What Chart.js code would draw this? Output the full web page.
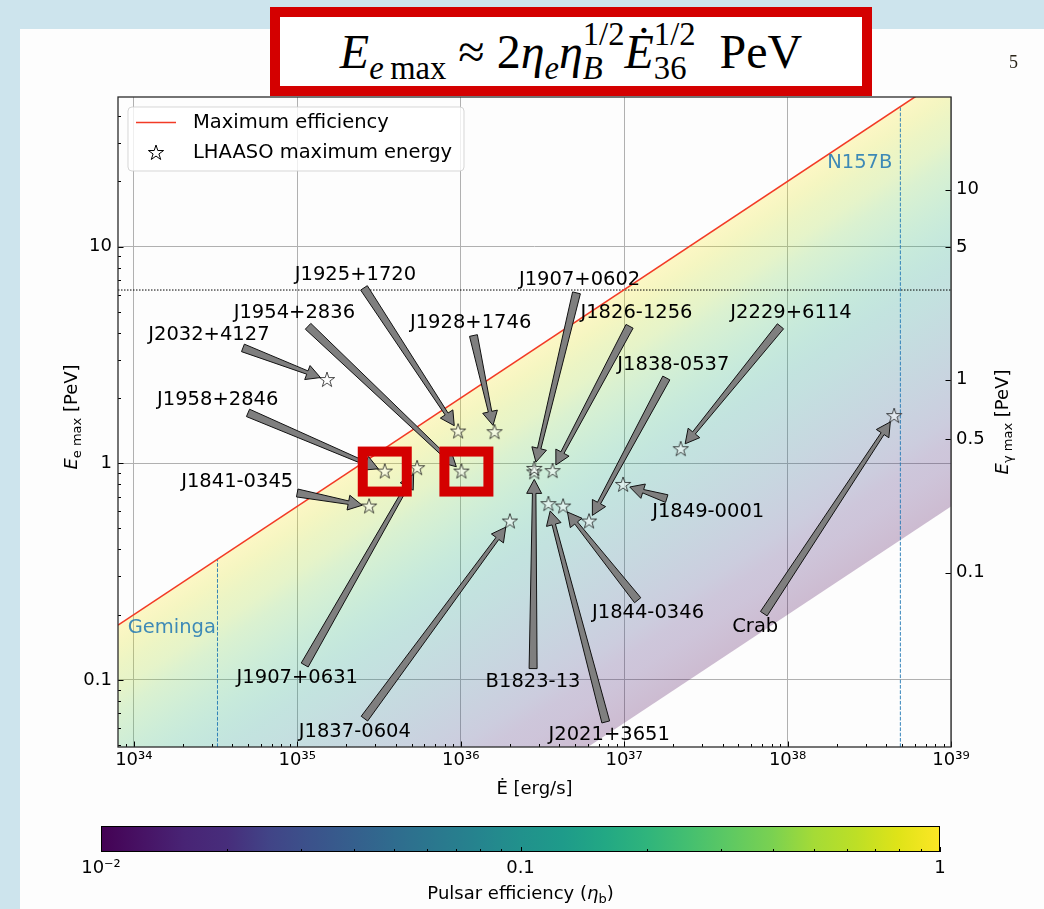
<!DOCTYPE html>
<html>
<head>
<meta charset="utf-8">
<title>Maximum electron energy of LHAASO pulsars</title>
<script src="https://cdn.jsdelivr.net/npm/chart.js@4.4.1/dist/chart.umd.min.js"></script>
<style>
  html, body { margin: 0; padding: 0; }
  body { width: 1044px; height: 909px; position: relative; overflow: hidden; background: #cde4ed; }
  #paper { position: absolute; left: 20px; top: 29px; width: 1024px; height: 880px; background: #fdfdfd; }
  canvas { position: absolute; left: 0; }
  #main { top: 0; }
  #cbar { top: 800px; }
  #formula {
    position: absolute; left: 270px; top: 7px; width: 602px; height: 89px; box-sizing: border-box;
    border: 10px solid #d40000; background: #fff; color: #000;
    font-family: "Liberation Serif", serif; font-size: 48px; line-height: 1;
    display: flex; align-items: center; justify-content: center; padding-top: 0; white-space: nowrap;
  }
  .sb { font-size: 0.68em; position: relative; top: 0.36em; }
  .ss { display: inline-block; position: relative; font-size: 0.68em; }
  .ss .up { position: relative; top: -0.7em; }
  .ss .dn { position: absolute; left: 0; top: 0.36em; }
  #pageno { position: absolute; left: 1009px; top: 52px; font-family: "Liberation Serif", serif; font-size: 18px; color: #2a2418; }
</style>
</head>
<body>
<div id="paper"></div>
<canvas id="main" width="1044" height="800"></canvas>
<canvas id="cbar" width="1044" height="109"></canvas>
<div id="formula"><span><i>E</i><span class="sb"><i>e</i>&#8201;max</span> &#8776; 2<i>&#951;</i><span class="sb"><i>e</i></span><i>&#951;</i><span class="ss"><span class="up">1/2</span><span class="dn"><i>B</i></span></span><i>&#278;</i><span class="ss"><span class="up">1/2</span><span class="dn">36</span></span>&#8194;PeV</span></div>
<div id="pageno">5</div>
<script>
// ---------------- values ----------------
const pulsarNames = ['J2032+4127', 'J1925+1720', 'J1954+2836', 'J1928+1746', 'J1958+2846',
  'J1841-0345', 'J1907+0631', 'J1837-0604', 'B1823-13', 'J2021+3651', 'J1844-0346', 'Crab',
  'J1849-0001', 'J1838-0537', 'J2229+6114', 'J1826-1256', 'J1907+0602'];
// spin-down power Edot [erg/s]
const spinDownPower = [1.52e35, 9.64e35, 1.01e36, 1.61e36, 3.43e35,
  2.75e35, 5.41e35, 2.0e36, 2.82e36, 3.44e36, 4.23e36, 4.49e38,
  9.85e36, 6.1e36, 2.22e37, 3.65e36, 2.82e36];
// maximum electron energy [PeV]
const maxEnergy = [2.42, 1.40, 0.915, 1.39, 0.915,
  0.631, 0.948, 0.538, 0.907, 0.647, 0.631, 1.65,
  0.794, 0.538, 1.16, 0.919, 0.941];
// where each name label sits, in (Edot, E) units
const labelPower = [2.88e34, 2.27e35, 9.6e34, 1.15e36, 3.26e34,
  4.29e34, 1.0e35, 2.25e35, 2.77e36, 8.1e36, 1.4e37, 6.34e37,
  3.27e37, 2.0e37, 1.05e38, 1.19e37, 5.34e36];
const labelEnergy = [3.91, 7.40, 4.92, 4.46, 1.96,
  0.822, 0.102, 0.0577, 0.0982, 0.0557, 0.203, 0.176,
  0.598, 2.84, 4.92, 4.92, 7.02];
const highlighted = ['J1958+2846', 'J1954+2836'];

// maximum-efficiency line (eta = 1) and the eta = 0.01 edge of the band
const maxEffPower = [8e33, 1e39];
const maxEffEnergy = [0.179, 63.2];
const minEffEnergy = [0.00179, 0.632];
const energyCap = 6.3;

// reference pulsars marked by vertical lines
const refNames = ['Geminga', 'N157B'];
const refPower = [3.25e34, 4.9e38];
const refTop = [0.361, 44.3];
const refLabelPower = [3.18e34, 4.38e38];
const refLabelEnergy = [0.174, 24.3];

// axes
const powerTicks = [1e34, 1e35, 1e36, 1e37, 1e38, 1e39];
const energyTicks = [0.1, 1, 10];
const energyTickLabels = ['0.1', '1', '10'];
const gammaTickLabels = ['0.1', '0.5', '1', '5', '10'];
const gammaTickAtEe = [0.313, 1.29, 2.43, 9.94, 18.3];
const etaTicks = [0.01, 0.1, 1];
const etaTickLabels = ['10\u207B\u00B2', '0.1', '1'];

// ---------------- styling helpers ----------------
const VIRIDIS = ['#440154', '#471365', '#482475', '#472d7b', '#414487', '#3b528b', '#355f8d',
  '#2f6c8e', '#2a788e', '#25848e', '#21918c', '#1e9b8a', '#22a884', '#2fb47c', '#44bf70',
  '#5ec962', '#7ad151', '#a5db36', '#bddf26', '#dfe318', '#fde725'];
function rgba(hex, a) {
  const n = parseInt(hex.slice(1), 16);
  return 'rgba(' + (n >> 16) + ',' + ((n >> 8) & 255) + ',' + (n & 255) + ',' + a + ')';
}
const SUP = { '0': '\u2070', '1': '\u00B9', '2': '\u00B2', '3': '\u00B3', '4': '\u2074', '5': '\u2075',
  '6': '\u2076', '7': '\u2077', '8': '\u2078', '9': '\u2079', '-': '\u207B' };
const pow10Label = v => '10' + String(Math.round(Math.log10(v))).split('').map(c => SUP[c]).join('');

const FONT = '"DejaVu Sans"';
Chart.defaults.font.family = FONT;
Chart.defaults.color = '#000';

function starCanvas(R, fill, stroke) {
  const s = Math.ceil(2 * R + 4);
  const c = document.createElement('canvas');
  c.width = s; c.height = s;
  const g = c.getContext('2d');
  traceStar(g, s / 2, s / 2, R);
  g.fillStyle = fill; g.fill();
  g.strokeStyle = stroke; g.lineWidth = 1; g.stroke();
  return c;
}
function traceStar(g, cx, cy, R) {
  g.beginPath();
  for (let i = 0; i < 10; i++) {
    const ang = -Math.PI / 2 + i * Math.PI / 5;
    const r = i % 2 === 0 ? R : R * 0.382;
    const px = cx + r * Math.cos(ang), py = cy + r * Math.sin(ang);
    if (i === 0) g.moveTo(px, py); else g.lineTo(px, py);
  }
  g.closePath();
}
const starImg = starCanvas(8, 'rgba(255,255,255,0.45)', 'rgba(0,0,0,0.7)');
const legendStar = starCanvas(8, '#ffffff', '#000000');

function bandGradient(context) {
  const chart = context.chart;
  const { ctx, chartArea, scales } = chart;
  if (!chartArea || !scales.x || !scales.y) return 'rgba(0,0,0,0)';
  const xs = scales.x, ys = scales.y;
  const r0x = xs.getPixelForValue(maxEffPower[0]), r0y = ys.getPixelForValue(maxEffEnergy[0]);
  const r1x = xs.getPixelForValue(maxEffPower[1]), r1y = ys.getPixelForValue(maxEffEnergy[1]);
  const l0y = ys.getPixelForValue(minEffEnergy[0]);
  let dx = r1x - r0x, dy = r1y - r0y;
  const L = Math.hypot(dx, dy); dx /= L; dy /= L;
  const nx = -dy, ny = dx;
  const t = (l0y - r0y) * ny;
  const g = ctx.createLinearGradient(r0x, r0y, r0x + nx * t, r0y + ny * t);
  const n = VIRIDIS.length - 1;
  for (let i = 0; i <= n; i++) g.addColorStop(i / n, rgba(VIRIDIS[n - i], 0.26));
  return g;
}

function drawArrow(ctx, tx, ty, hx, hy) {
  let ux = hx - tx, uy = hy - ty;
  const L = Math.hypot(ux, uy); ux /= L; uy /= L;
  const nx = -uy, ny = ux;
  const hl = 14, hw = 15, w0 = 8, w1 = 3.5;
  const bx = hx - ux * hl, by = hy - uy * hl;
  ctx.beginPath();
  ctx.moveTo(tx + nx * w0 / 2, ty + ny * w0 / 2);
  ctx.lineTo(bx + nx * w1 / 2, by + ny * w1 / 2);
  ctx.lineTo(bx + nx * hw / 2, by + ny * hw / 2);
  ctx.lineTo(hx, hy);
  ctx.lineTo(bx - nx * hw / 2, by - ny * hw / 2);
  ctx.lineTo(bx - nx * w1 / 2, by - ny * w1 / 2);
  ctx.lineTo(tx - nx * w0 / 2, ty - ny * w0 / 2);
  ctx.closePath();
  ctx.fillStyle = '#7f7f7f'; ctx.fill();
  ctx.strokeStyle = '#111'; ctx.lineWidth = 1; ctx.stroke();
}

function drawRich(ctx, parts, cx, baseline) {
  let total = 0;
  parts.forEach(p => { ctx.font = p.font; p.w = ctx.measureText(p.text).width; total += p.w; });
  let x = cx - total / 2;
  ctx.textAlign = 'left'; ctx.textBaseline = 'alphabetic';
  parts.forEach(p => { ctx.font = p.font; ctx.fillText(p.text, x, baseline + (p.dy || 0)); x += p.w; });
}

// ---------------- main panel decorations ----------------
const highlightNudge = [0, 5];   // hand placement of the frames, px

const annotations = {
  id: 'annotations',
  afterDatasetsDraw(chart) {
    const { ctx, scales: { x: xs, y: ys } } = chart;
    ctx.save();
    // reference pulsar names
    ctx.font = '19.5px ' + FONT;
    ctx.fillStyle = 'rgba(31,119,180,0.85)';
    ctx.textAlign = 'right'; ctx.textBaseline = 'middle';
    refNames.forEach((n, i) => ctx.fillText(n, xs.getPixelForValue(refLabelPower[i]), ys.getPixelForValue(refLabelEnergy[i])));
    // arrows from each name to its pulsar
    pulsarNames.forEach((name, i) => {
      const sx = xs.getPixelForValue(spinDownPower[i]), sy = ys.getPixelForValue(maxEnergy[i]);
      const cx = xs.getPixelForValue(labelPower[i]), cy = ys.getPixelForValue(labelEnergy[i]);
      ctx.font = '19.5px ' + FONT;
      const w = ctx.measureText(name).width;
      let vx = sx - cx, vy = sy - cy;
      const L = Math.hypot(vx, vy); vx /= L; vy /= L;
      const t = Math.min((w / 2 + 4) / Math.max(Math.abs(vx), 1e-6), 13 / Math.max(Math.abs(vy), 1e-6));
      drawArrow(ctx, cx + vx * t, cy + vy * t, sx - vx * 7, sy - vy * 7);
      ctx.fillStyle = '#000'; ctx.textAlign = 'center'; ctx.textBaseline = 'middle';
      ctx.fillText(name, cx, cy);
    });
    ctx.restore();
  },
  afterDraw(chart) {
    const { ctx, chartArea: a, scales: { x: xs, y: ys, y2 } } = chart;
    ctx.save();
    // tick marks (pointing inward)
    ctx.strokeStyle = '#000'; ctx.lineWidth = 1;
    ctx.beginPath();
    const major = 5.5, minor = 3;
    const vline = (v, len) => { const p = Math.round(xs.getPixelForValue(v)) + 0.5; ctx.moveTo(p, a.bottom); ctx.lineTo(p, a.bottom - len); };
    const hline = (scale, v, len, fromRight) => {
      const p = Math.round(scale.getPixelForValue(v)) + 0.5;
      if (fromRight) { ctx.moveTo(a.right, p); ctx.lineTo(a.right - len, p); }
      else { ctx.moveTo(a.left, p); ctx.lineTo(a.left + len, p); }
    };
    powerTicks.forEach(v => vline(v, major));
    for (let d = 33; d <= 38; d++) for (let k = 2; k <= 9; k++) {
      const v = k * Math.pow(10, d);
      if (v > xs.min && v < xs.max) vline(v, minor);
    }
    energyTicks.forEach(v => hline(ys, v, major, false));
    for (let d = -2; d <= 1; d++) for (let k = 2; k <= 9; k++) {
      const v = k * Math.pow(10, d);
      if (v > ys.min && v < ys.max) hline(ys, v, minor, false);
    }
    gammaTickAtEe.forEach(v => hline(y2, v, major, true));
    ctx.stroke();
    // frame
    ctx.strokeStyle = '#2b2b2b'; ctx.lineWidth = 1.3;
    ctx.strokeRect(a.left, a.top, a.right - a.left, a.bottom - a.top);

    // legend
    const lx = a.left + 10, ly = a.top + 10, lw = 336, lh = 64;
    ctx.beginPath();
    ctx.roundRect(lx, ly, lw, lh, 4);
    ctx.fillStyle = 'rgba(255,255,255,0.8)'; ctx.fill();
    ctx.strokeStyle = 'rgba(204,204,204,0.8)'; ctx.lineWidth = 1; ctx.stroke();
    const ds = chart.data.datasets;
    ctx.strokeStyle = ds[1].borderColor; ctx.lineWidth = 1.6;
    ctx.beginPath(); ctx.moveTo(lx + 8, ly + 15.5); ctx.lineTo(lx + 48, ly + 15.5); ctx.stroke();
    ctx.drawImage(legendStar, lx + 28 - legendStar.width / 2, ly + 46 - legendStar.height / 2);
    ctx.fillStyle = '#000'; ctx.font = '19.5px ' + FONT; ctx.textAlign = 'left'; ctx.textBaseline = 'middle';
    ctx.fillText(ds[1].label, lx + 65, ly + 16);
    ctx.fillText(ds[0].label, lx + 65, ly + 46);

    // axis titles
    ctx.fillStyle = '#000';
    drawRich(ctx, [{ text: '\u0116 [erg/s]', font: '18px ' + FONT }], (a.left + a.right) / 2, 794);
    ctx.save();
    ctx.translate(76.5, 417); ctx.rotate(-Math.PI / 2);
    drawRich(ctx, [
      { text: 'E', font: 'oblique 18px ' + FONT },
      { text: 'e max', font: '13px ' + FONT, dy: 4 },
      { text: ' [PeV]', font: '18px ' + FONT }], 0, 0);
    ctx.restore();
    ctx.save();
    ctx.translate(1008, 422); ctx.rotate(-Math.PI / 2);
    drawRich(ctx, [
      { text: 'E', font: 'oblique 18px ' + FONT },
      { text: '\u03B3 max', font: '13px ' + FONT, dy: 4 },
      { text: ' [PeV]', font: '18px ' + FONT }], 0, 0);
    ctx.restore();

    // highlighted pulsars
    ctx.strokeStyle = '#d40000'; ctx.lineWidth = 10;
    highlighted.forEach((n, k) => {
      const i = pulsarNames.indexOf(n);
      const px = xs.getPixelForValue(spinDownPower[i]) + highlightNudge[k];
      const py = ys.getPixelForValue(maxEnergy[i]);
      ctx.strokeRect(px - 22, py - 20, 44, 40);
    });
    ctx.restore();
  }
};

const lineDs = (label, xsArr, ysArr, color, width, dash, order) => ({
  type: 'line', label, order,
  data: xsArr.map((x, i) => ({ x, y: ysArr[i] })),
  borderColor: color, borderWidth: width, borderDash: dash || [],
  pointRadius: 0, fill: false, tension: 0
});

const mainChart = new Chart(document.getElementById('main'), {
  type: 'scatter',
  data: {
    datasets: [
      {
        label: 'LHAASO maximum energy', order: 0,
        data: spinDownPower.map((x, i) => ({ x, y: maxEnergy[i] })),
        pointStyle: starImg, pointRadius: 8, showLine: false
      },
      lineDs('Maximum efficiency', maxEffPower, maxEffEnergy, '#f23b26', 1.6, null, 1),
      Object.assign(lineDs('efficiency band', maxEffPower, minEffEnergy, 'rgba(0,0,0,0)', 0, null, 6),
        { fill: 1, backgroundColor: bandGradient }),
      lineDs('cap', maxEffPower, [energyCap, energyCap], '#000', 1, [1.5, 1.5], 2),
      lineDs(refNames[0], [refPower[0], refPower[0]], [0.049, refTop[0]], 'rgba(31,119,180,0.9)', 1, [3.7, 1.6], 3),
      lineDs(refNames[1], [refPower[1], refPower[1]], [0.049, refTop[1]], 'rgba(31,119,180,0.9)', 1, [3.7, 1.6], 3)
    ]
  },
  options: {
    responsive: false, animation: false, devicePixelRatio: 1,
    layout: { padding: { top: 97, left: 0, right: 0, bottom: 0 } },
    plugins: { legend: { display: false }, tooltip: { enabled: false } },
    scales: {
      x: {
        type: 'logarithmic', min: 8e33, max: 1e39, position: 'bottom',
        afterBuildTicks: s => { s.ticks = powerTicks.map(v => ({ value: v })); },
        afterFit: s => { s.height = 53; },
        grid: { color: '#b0b0b0', lineWidth: 1, drawTicks: false },
        border: { display: false },
        ticks: { callback: v => pow10Label(v), padding: 3, font: { size: 18 }, maxRotation: 0, autoSkip: false }
      },
      y: {
        type: 'logarithmic', min: 0.049, max: 49, position: 'left',
        afterBuildTicks: s => { s.ticks = energyTicks.map(v => ({ value: v })); },
        afterFit: s => { s.width = 118; },
        grid: { color: '#b0b0b0', lineWidth: 1, drawTicks: false },
        border: { display: false },
        ticks: { callback: (v, i) => energyTickLabels[i], padding: 6, font: { size: 18 }, autoSkip: false }
      },
      y2: {
        type: 'logarithmic', min: 0.049, max: 49, position: 'right',
        afterBuildTicks: s => { s.ticks = gammaTickAtEe.map(v => ({ value: v })); },
        afterFit: s => { s.width = 93; },
        grid: { display: false, drawTicks: false },
        border: { display: false },
        ticks: { callback: (v, i) => gammaTickLabels[i], padding: 5, font: { size: 18 }, autoSkip: false }
      }
    }
  },
  plugins: [annotations]
});

// ---------------- colour bar ----------------
const colorbar = {
  id: 'colorbar',
  beforeDatasetsDraw(chart) {
    const { ctx, chartArea: a, scales: { x: xs } } = chart;
    ctx.save();
    const g = ctx.createLinearGradient(a.left, 0, a.right, 0);
    const n = VIRIDIS.length - 1;
    VIRIDIS.forEach((c, i) => g.addColorStop(i / n, c));
    ctx.fillStyle = g;
    ctx.fillRect(a.left, a.top, a.right - a.left, a.bottom - a.top);
    ctx.strokeStyle = '#000'; ctx.lineWidth = 1;
    ctx.strokeRect(a.left + 0.5, a.top + 0.5, a.right - a.left - 1, a.bottom - a.top - 1);
    ctx.beginPath();
    const tick = (v, len) => { const p = Math.round(xs.getPixelForValue(v)) + 0.5; ctx.moveTo(p, a.bottom); ctx.lineTo(p, a.bottom - len); };
    etaTicks.forEach(v => tick(v, 5));
    for (let d = -2; d <= -1; d++) for (let k = 2; k <= 9; k++) tick(k * Math.pow(10, d), 3);
    ctx.stroke();
    ctx.fillStyle = '#000';
    drawRich(ctx, [
      { text: 'Pulsar efficiency (', font: '18px ' + FONT },
      { text: '\u03B7', font: 'oblique 18px ' + FONT },
      { text: 'b', font: '13px ' + FONT, dy: 4 },
      { text: ')', font: '18px ' + FONT }], (a.left + a.right) / 2, 99);
    ctx.restore();
  }
};

new Chart(document.getElementById('cbar'), {
  type: 'scatter',
  data: { datasets: [] },
  options: {
    responsive: false, animation: false, devicePixelRatio: 1,
    layout: { padding: { top: 26, left: 101, right: 104, bottom: 0 } },
    plugins: { legend: { display: false }, tooltip: { enabled: false } },
    scales: {
      x: {
        type: 'logarithmic', min: 0.01, max: 1,
        afterBuildTicks: s => { s.ticks = etaTicks.map(v => ({ value: v })); },
        afterFit: s => { s.height = 57; },
        grid: { display: false, drawTicks: false },
        border: { display: false },
        ticks: { callback: (v, i) => etaTickLabels[i], padding: 6, font: { size: 18 }, maxRotation: 0, autoSkip: false }
      },
      y: { display: false, min: 0, max: 1 }
    }
  },
  plugins: [colorbar]
});
</script>
</body>
</html>
